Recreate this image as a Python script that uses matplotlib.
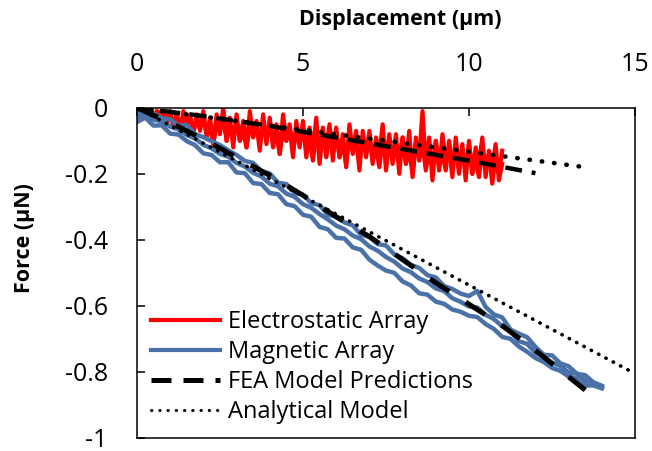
import numpy as np
import matplotlib
matplotlib.use("Agg")
import matplotlib.pyplot as plt
from matplotlib.lines import Line2D

plt.rcParams['font.family'] = ['Open Sans', 'DejaVu Sans']

# electrostatic array, forward sweep (0 -> 11 um, every 0.1 um)
red_fwd = [
    -0.00, -0.01, 0.00, -0.02, -0.01, -0.03, -0.01, -0.04, -0.02, -0.05,
    -0.01, -0.06, -0.02, -0.07, -0.01, -0.05, -0.03, -0.08, -0.02, -0.07,
    -0.01, -0.09, -0.03, -0.11, -0.02, -0.08, 0.00, -0.10, -0.03, -0.12,
    -0.02, -0.10, -0.04, -0.12, -0.01, -0.09, -0.05, -0.13, -0.02, -0.11,
    -0.03, -0.12, -0.05, -0.14, -0.02, -0.10, -0.06, -0.15, -0.04, -0.12,
    -0.04, -0.15, -0.06, -0.13, -0.03, -0.17, -0.07, -0.12, -0.05, -0.16,
    -0.06, -0.15, -0.08, -0.18, -0.05, -0.14, -0.09, -0.19, -0.07, -0.15,
    -0.07, -0.17, -0.09, -0.14, -0.05, -0.19, -0.10, -0.16, -0.08, -0.20,
    -0.09, -0.17, -0.07, -0.21, -0.11, -0.15, -0.01, -0.18, -0.09, -0.22,
    -0.10, -0.19, -0.08, -0.16, -0.12, -0.21, -0.09, -0.18, -0.11, -0.22,
    -0.10, -0.20, -0.12, -0.17, -0.09, -0.21, -0.13, -0.19, -0.11, -0.22,
    -0.17,
]
# electrostatic array, return sweep (11 -> 0 um, every 0.1 um)
red_back = [
    -0.13, -0.20, -0.15, -0.23, -0.14, -0.19, -0.12, -0.21, -0.16, -0.20,
    -0.11, -0.18, -0.13, -0.20, -0.12, -0.17, -0.10, -0.19, -0.14, -0.18,
    -0.10, -0.17, -0.12, -0.19, -0.11, -0.16, -0.09, -0.20, -0.13, -0.17,
    -0.09, -0.15, -0.11, -0.17, -0.08, -0.15, -0.10, -0.18, -0.12, -0.16,
    -0.08, -0.14, -0.10, -0.16, -0.07, -0.13, -0.09, -0.17, -0.11, -0.15,
    -0.07, -0.13, -0.09, -0.15, -0.06, -0.12, -0.08, -0.16, -0.10, -0.13,
    -0.06, -0.11, -0.07, -0.13, -0.05, -0.10, -0.07, -0.14, -0.08, -0.11,
    -0.05, -0.09, -0.06, -0.11, -0.04, -0.08, -0.06, -0.12, -0.07, -0.10,
    -0.04, -0.08, -0.05, -0.10, -0.03, -0.07, -0.05, -0.11, -0.06, -0.08,
    -0.03, -0.06, -0.04, -0.07, -0.02, -0.05, -0.03, -0.06, -0.02, -0.05,
    -0.02, -0.04, -0.01, -0.03, -0.01, -0.03, 0.00, -0.02, -0.01, -0.02,
    0.00,
]

# magnetic array, three sweeps (0 -> 14 um, every 0.25 um)
blue_a = [
    -0.015, -0.016, -0.016, -0.031, -0.035, -0.054, -0.052, -0.080, -0.089, -0.101,
    -0.113, -0.129, -0.143, -0.161, -0.167, -0.192, -0.199, -0.227, -0.231, -0.258,
    -0.263, -0.289, -0.295, -0.324, -0.330, -0.347, -0.356, -0.385, -0.391, -0.413,
    -0.417, -0.444, -0.456, -0.476, -0.485, -0.507, -0.514, -0.540, -0.549, -0.563,
    -0.570, -0.555, -0.603, -0.626, -0.635, -0.672, -0.684, -0.695, -0.724, -0.748,
    -0.750, -0.774, -0.783, -0.806, -0.810, -0.832, -0.842,
]
blue_b = [
    -0.043, -0.030, -0.054, -0.053, -0.078, -0.081, -0.101, -0.113, -0.138, -0.143,
    -0.165, -0.165, -0.196, -0.198, -0.228, -0.231, -0.258, -0.262, -0.292, -0.298,
    -0.324, -0.330, -0.361, -0.368, -0.394, -0.396, -0.423, -0.430, -0.460, -0.478,
    -0.493, -0.500, -0.526, -0.538, -0.562, -0.566, -0.587, -0.594, -0.611, -0.618,
    -0.630, -0.634, -0.655, -0.670, -0.694, -0.700, -0.723, -0.739, -0.758, -0.770,
    -0.788, -0.797, -0.814, -0.820, -0.841, -0.841, -0.850,
]
blue_c = [
    -0.030, -0.022, -0.037, -0.040, -0.057, -0.066, -0.082, -0.093, -0.112, -0.123,
    -0.140, -0.148, -0.167, -0.178, -0.197, -0.208, -0.230, -0.238, -0.260, -0.270,
    -0.292, -0.303, -0.322, -0.338, -0.357, -0.368, -0.387, -0.398, -0.420, -0.433,
    -0.452, -0.466, -0.487, -0.498, -0.517, -0.528, -0.547, -0.555, -0.577, -0.588,
    -0.602, -0.605, -0.627, -0.640, -0.662, -0.675, -0.707, -0.715, -0.742, -0.755,
    -0.772, -0.782, -0.802, -0.805, -0.827, -0.832, -0.847,
]

# models
fea_mag_x = [0, 1, 2, 3, 4, 5, 6, 7, 8, 9, 10, 11, 12, 13, 13.5]
fea_mag_f = [0, -0.045, -0.095, -0.15, -0.205, -0.265, -0.33, -0.39, -0.46,
             -0.53, -0.595, -0.66, -0.735, -0.815, -0.855]
fea_es_x = [0, 2, 4, 6, 8, 10, 12]
fea_es_f = [0, -0.025, -0.055, -0.09, -0.125, -0.16, -0.198]
ana_mag_x = [0, 5, 10, 14.9]
ana_mag_f = [0, -0.268, -0.537, -0.80]
ana_es_x = [0, 5, 10, 13.5]
ana_es_f = [0, -0.067, -0.133, -0.18]

labels = ['Electrostatic Array', 'Magnetic Array', 'FEA Model Predictions', 'Analytical Model']

red = '#ff0000'
blue = '#4a72a8'

red_fwd_x = np.arange(len(red_fwd)) * 0.1
red_back_x = 11 - np.arange(len(red_back)) * 0.1
blue_x = np.arange(len(blue_a)) * 0.25

fig = plt.figure(figsize=(6.52, 4.51), dpi=100)
ax = fig.add_axes([0.210, 0.029, 0.764, 0.732])

ax.plot(red_fwd_x, red_fwd, color=red, lw=3.0)
ax.plot(red_back_x, red_back, color=red, lw=3.0)
for trace in (blue_a, blue_b, blue_c):
    ax.plot(blue_x, trace, color=blue, lw=3.2)

ax.plot(fea_mag_x, fea_mag_f, color='black', lw=3.6, ls=(0, (4.6, 3.9)))
ax.plot(fea_es_x, fea_es_f, color='black', lw=3.2, ls=(0, (3.8, 2.2)))
ax.plot(ana_mag_x, ana_mag_f, color='black', lw=2.6, ls=(0, (0.1, 2.2)),
        dash_capstyle='round')
ax.plot(ana_es_x, ana_es_f, color='black', lw=3.3, ls=(0, (0.1, 2.6)),
        dash_capstyle='round')

ax.set_xlim(0, 15)
ax.set_ylim(-1, 0)
ax.set_xticks([0, 5, 10, 15])
ax.set_yticks([0, -0.2, -0.4, -0.6, -0.8, -1])
ax.set_yticklabels(['0', '-0.2', '-0.4', '-0.6', '-0.8', '-1'])
ax.xaxis.tick_top()
ax.xaxis.set_label_position('top')
ax.tick_params(axis='x', direction='in', length=6, width=1.1, labelsize=18, pad=22)
ax.tick_params(axis='y', direction='in', length=6, width=1.1, labelsize=18, pad=21)
for s in ax.spines.values():
    s.set_linewidth(1.1)

ax.set_xlabel('Displacement (µm)', fontsize=15.5, fontweight='bold', va='center')
ax.xaxis.set_label_coords(0.528, 1.267)
ax.set_ylabel('Force (µN)', fontsize=15.5, fontweight='bold', va='center')
ax.yaxis.set_label_coords(-0.225, 0.606)

handles = [
    Line2D([], [], color=red, lw=3.0),
    Line2D([], [], color=blue, lw=3.0),
    Line2D([], [], color='black', lw=3.6, ls=(0, (4.0, 2.4))),
    Line2D([], [], color='black', lw=2.2, ls=(0, (0.1, 2.6)), dash_capstyle='round'),
]
ax.legend(handles, labels, loc='upper left', bbox_to_anchor=(0.0, 0.43), frameon=False,
          fontsize=17, handlelength=2.9, handletextpad=0.35, labelspacing=0.25,
          borderaxespad=0.2)

fig.savefig('out.png', dpi=100)
